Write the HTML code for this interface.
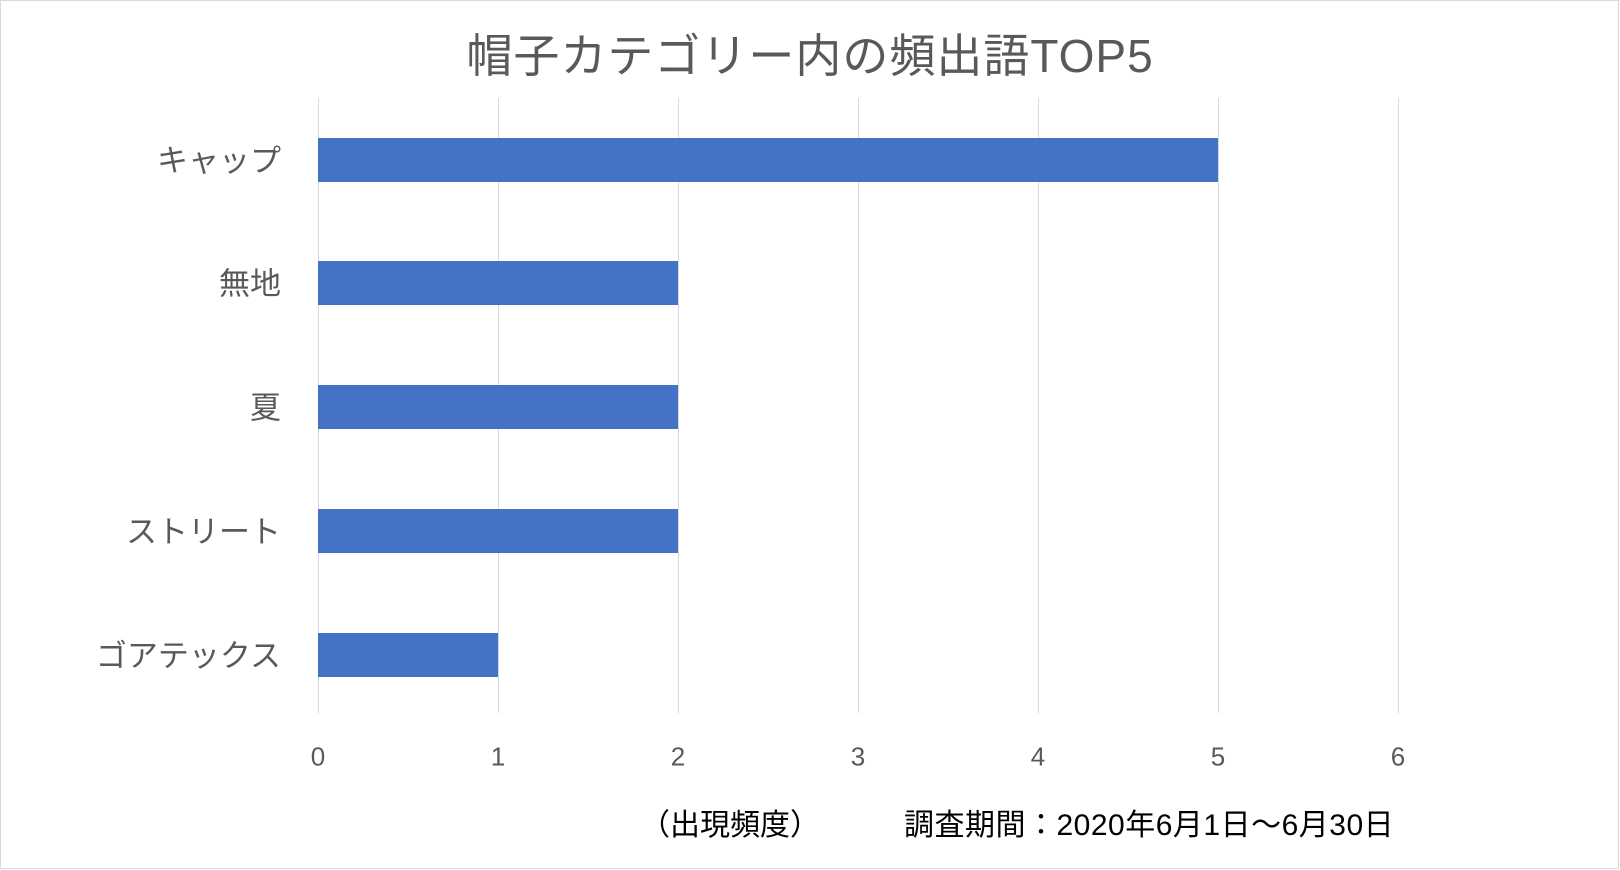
<!DOCTYPE html><html><head><meta charset="utf-8"><style>
body{margin:0;width:1620px;height:870px;background:#fff;overflow:hidden;font-family:"Liberation Sans","Noto Sans CJK JP",sans-serif}
.f{position:absolute;left:0;top:0;width:1617px;height:867px;border:1.5px solid #d9d9d9}
.t{position:absolute;white-space:nowrap;color:#595959}
.g{position:absolute;top:98px;height:615px;width:1px;background:#d9d9d9}
.b{position:absolute;left:318px;height:44px;background:#4472c4}
.y{position:absolute;right:1339px;font-size:31px;transform:translateY(-50%)}
.x{position:absolute;top:757px;font-size:26px;transform:translate(-50%,-50%)}
</style></head><body><div class="f"></div>
<div class="t" style="left:0;width:1620px;text-align:center;top:20px;font-size:46px;letter-spacing:1px">帽子カテゴリー内の頻出語TOP5</div>
<div class="g" style="left:318px"></div><div class="g" style="left:498px"></div><div class="g" style="left:678px"></div><div class="g" style="left:858px"></div><div class="g" style="left:1038px"></div><div class="g" style="left:1218px"></div><div class="g" style="left:1398px"></div>
<div class="b" style="top:138px;width:900px"></div>
<div class="b" style="top:261px;width:360px"></div>
<div class="b" style="top:385px;width:360px"></div>
<div class="b" style="top:509px;width:360px"></div>
<div class="b" style="top:633px;width:180px"></div>
<div class="t y" style="top:158px">キャップ</div>
<div class="t y" style="top:281px">無地</div>
<div class="t y" style="top:405px">夏</div>
<div class="t y" style="top:529px">ストリート</div>
<div class="t y" style="top:653px">ゴアテックス</div>
<div class="t x" style="left:318px">0</div><div class="t x" style="left:498px">1</div><div class="t x" style="left:678px">2</div><div class="t x" style="left:858px">3</div><div class="t x" style="left:1038px">4</div><div class="t x" style="left:1218px">5</div><div class="t x" style="left:1398px">6</div>
<div class="t" style="left:640px;top:800px;font-size:30px;color:#000">（出現頻度）</div>
<div class="t" style="left:904px;top:800px;font-size:30px;color:#000;letter-spacing:0.5px">調査期間：2020年6月1日～6月30日</div>
</body></html>
